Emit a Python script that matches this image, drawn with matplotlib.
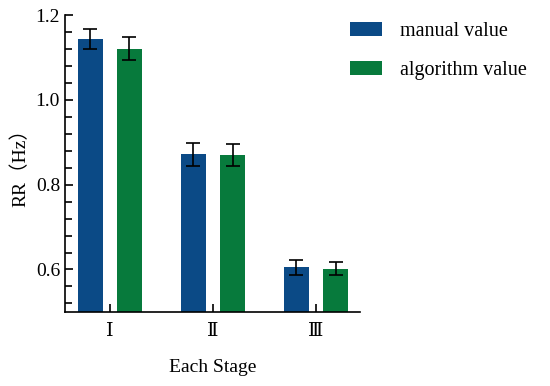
import numpy as np
import matplotlib.pyplot as plt
from matplotlib.ticker import AutoMinorLocator

stages = ['Ⅰ', 'Ⅱ', 'Ⅲ']
manual = [1.143, 0.872, 0.605]
manual_err = [0.024, 0.027, 0.018]
algorithm = [1.121, 0.871, 0.602]
algorithm_err = [0.027, 0.026, 0.016]

plt.rcParams['font.family'] = ['Liberation Serif', 'DejaVu Serif', 'Noto Sans CJK SC']

fig = plt.figure(figsize=(5.5, 3.86), dpi=100)
ax = fig.add_axes([0.118, 0.192, 0.537, 0.769])

x = np.arange(len(stages))
w = 0.243
off = 0.19
ekw = dict(elinewidth=1.2, capthick=1.2, ecolor='black')
ax.bar(x - off, manual, w, yerr=manual_err, capsize=4.7, color='#0b4a86',
       error_kw=ekw, label='manual value')
ax.bar(x + off, algorithm, w, yerr=algorithm_err, capsize=4.7, color='#077a3c',
       error_kw=ekw, label='algorithm value')

ax.set_xlim(-0.437, 2.43)
ax.set_ylim(0.5, 1.2)
ax.set_yticks([0.6, 0.8, 1.0, 1.2])
ax.yaxis.set_minor_locator(AutoMinorLocator(5))
ax.set_xticks(x)
ax.set_xticklabels(stages, fontsize=14)
ax.tick_params(axis='y', which='major', direction='in', length=6, width=1.2, labelsize=14)
ax.tick_params(axis='y', which='minor', direction='in', length=5, width=1.2)
ax.tick_params(axis='x', direction='in', length=6, width=1.2, pad=8)
for s in ['top', 'right']:
    ax.spines[s].set_visible(False)
for s in ['left', 'bottom']:
    ax.spines[s].set_linewidth(1.2)

ax.set_ylabel('RR（Hz）', fontsize=14)
ax.set_xlabel('Each Stage', fontsize=14, labelpad=14)

ax.legend(loc='upper left', bbox_to_anchor=(350 / 550, 1 - 22 / 386),
          bbox_transform=fig.transFigure, frameon=False, fontsize=14.5,
          handlelength=1.6, handleheight=0.65, handletextpad=0.9, labelspacing=1.0,
          borderaxespad=0, borderpad=0)

fig.savefig('out.png', dpi=100)
